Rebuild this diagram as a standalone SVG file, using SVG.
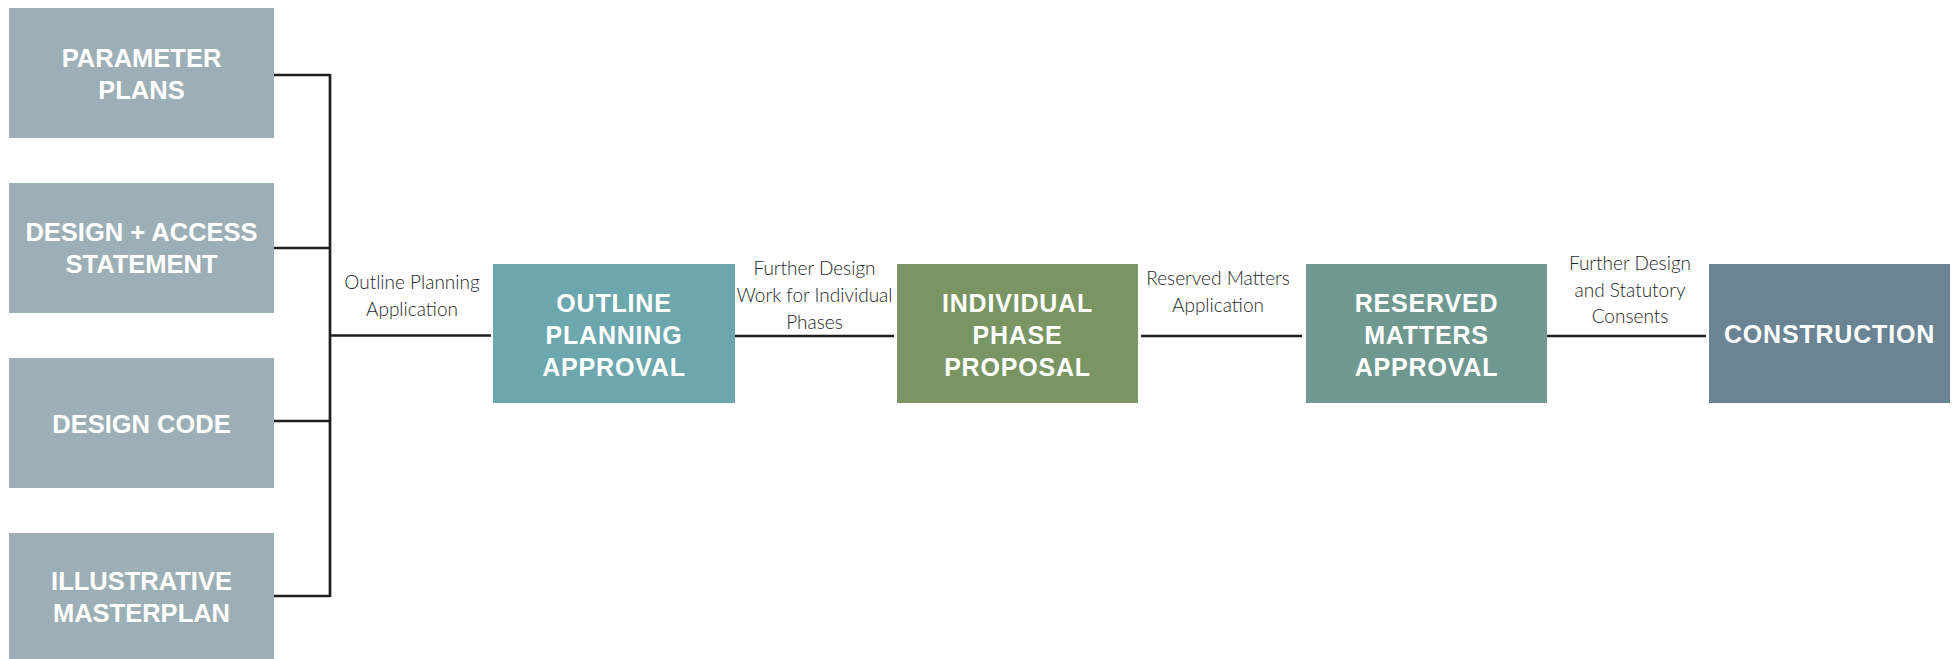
<svg xmlns="http://www.w3.org/2000/svg" width="1959" height="659" viewBox="0 0 1959 659">
<style>
.src{fill:#9DAFB6}
.t{font-family:"Liberation Sans",Arial,sans-serif;font-weight:bold;font-size:25px;fill:#ffffff;text-anchor:middle}
.ts{font-size:25.5px}
.tm{letter-spacing:0.8px}
.lbl{font-family:Lato,"Open Sans",sans-serif;font-weight:300;font-size:19px;fill:#262626;text-anchor:middle}
.ln{stroke:#1e1e1e;stroke-width:2.7;fill:none}
</style>
<rect width="1959" height="659" fill="#ffffff"/>
<g id="connectors">
<path class="ln" d="M274 75H330M274 248H330M274 421H330M274 596H330M330 74V597M330 335.5H491M735 336H894M1141 336H1302M1547 336H1706"/>
</g>
<g id="parameter-plans">
<rect class="src" x="9" y="8" width="265" height="130"/>
<text class="t ts" x="141.5" y="67">PARAMETER</text>
<text class="t ts" x="141.5" y="99">PLANS</text>
</g>
<g id="design-access">
<rect class="src" x="9" y="183" width="265" height="130"/>
<text class="t ts" x="141.5" y="241">DESIGN + ACCESS</text>
<text class="t ts" x="141.5" y="273">STATEMENT</text>
</g>
<g id="design-code">
<rect class="src" x="9" y="358" width="265" height="130"/>
<text class="t ts" x="141.5" y="433">DESIGN CODE</text>
</g>
<g id="illustrative-masterplan">
<rect class="src" x="9" y="533" width="265" height="130"/>
<text class="t ts" x="141.5" y="590">ILLUSTRATIVE</text>
<text class="t ts" x="141.5" y="622">MASTERPLAN</text>
</g>
<g id="outline-planning-approval">
<rect x="493" y="264" width="242" height="139" fill="#6DA7AE"/>
<text class="t tm" x="614" y="311.5">OUTLINE</text>
<text class="t tm" x="614" y="343.5">PLANNING</text>
<text class="t tm" x="614" y="375.5">APPROVAL</text>
</g>
<g id="individual-phase-proposal">
<rect x="897" y="264" width="241" height="139" fill="#799563"/>
<text class="t tm" x="1017.5" y="311.5">INDIVIDUAL</text>
<text class="t tm" x="1017.5" y="343.5">PHASE</text>
<text class="t tm" x="1017.5" y="375.5">PROPOSAL</text>
</g>
<g id="reserved-matters-approval">
<rect x="1306" y="264" width="241" height="139" fill="#6F9990"/>
<text class="t tm" x="1426.5" y="311.5">RESERVED</text>
<text class="t tm" x="1426.5" y="343.5">MATTERS</text>
<text class="t tm" x="1426.5" y="375.5">APPROVAL</text>
</g>
<g id="construction">
<rect x="1709" y="264" width="241" height="139" fill="#6A8493"/>
<text class="t tm" x="1829.5" y="342.5">CONSTRUCTION</text>
</g>
<g id="labels">
<text class="lbl" x="412" y="289">Outline Planning</text>
<text class="lbl" x="412" y="316">Application</text>
<text class="lbl" x="814.5" y="275">Further Design</text>
<text class="lbl" x="814.5" y="302">Work for Individual</text>
<text class="lbl" x="814.5" y="329">Phases</text>
<text class="lbl" x="1218" y="285">Reserved Matters</text>
<text class="lbl" x="1218" y="312">Application</text>
<text class="lbl" x="1630" y="270">Further Design</text>
<text class="lbl" x="1630" y="297">and Statutory</text>
<text class="lbl" x="1630" y="323">Consents</text>
</g>
</svg>
